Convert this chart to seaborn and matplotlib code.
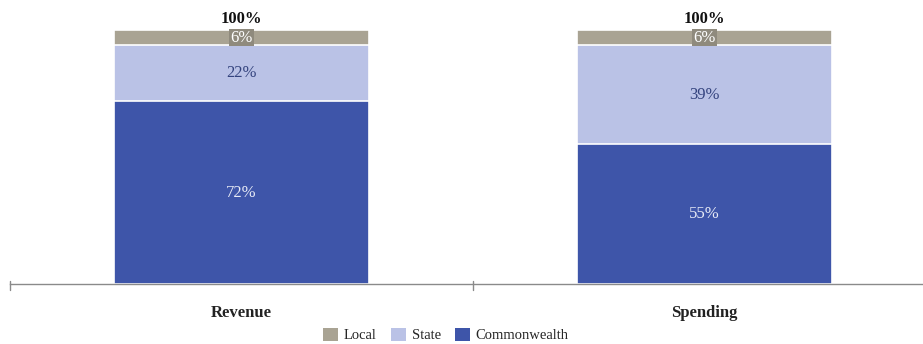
import matplotlib
matplotlib.use("Agg")
import matplotlib.pyplot as plt
from matplotlib.patches import Patch
import seaborn as sns
import pandas as pd

categories = ["Revenue", "Spending"]
commonwealth = [72, 55]
state = [22, 39]
local = [6, 6]
totals = [100, 100]

series_names = ["Local", "State", "Commonwealth"]
colors = {"Local": "#a9a393", "State": "#bac2e6", "Commonwealth": "#3e55a9"}
label_colors = {"Local": "white", "State": "#34437e", "Commonwealth": "#e8ebf6"}

sns.set_theme(style="white")
plt.rcParams["font.family"] = ["Liberation Serif", "DejaVu Serif"]

df = pd.DataFrame({
    "category": categories,
    "Commonwealth": commonwealth,
    "State": state,
    "Local": local,
})
df["cum_cw"] = df["Commonwealth"]
df["cum_state"] = df["cum_cw"] + df["State"]
df["cum_local"] = df["cum_state"] + df["Local"]

fig = plt.figure(figsize=(9.23, 3.44), dpi=100)
ax = fig.add_axes([10 / 923, 60 / 344, 926 / 923, 254 / 344])

bar_w = 0.55
# Stacked layers: draw the tallest cumulative first so each lower layer sits on top
for col, name in [("cum_local", "Local"), ("cum_state", "State"), ("cum_cw", "Commonwealth")]:
    sns.barplot(data=df, x="category", y=col, color=colors[name], width=bar_w,
                saturation=1, edgecolor="white", linewidth=1.2, ax=ax, errorbar=None)

ax.set_ylim(0, 100)
ax.set_xlim(-0.5, 1.5)
ax.set_xlabel("")
ax.set_ylabel("")
ax.set_yticks([])

# Segment value labels
for i in range(len(categories)):
    cw, st, lo = commonwealth[i], state[i], local[i]
    ax.text(i, cw / 2, f"{cw}%", ha="center", va="center", fontsize=12,
            color=label_colors["Commonwealth"])
    ax.text(i, cw + st / 2, f"{st}%", ha="center", va="center", fontsize=12,
            color=label_colors["State"])
    ax.text(i, cw + st + lo / 2, f"{lo}%", ha="center", va="center", fontsize=12,
            color=label_colors["Local"],
            bbox=dict(boxstyle="square,pad=0.05", fc="#8f8a7d", ec="none"))
    ax.text(i, totals[i] + 1.0, f"{totals[i]}%", ha="center", va="bottom",
            fontsize=12, fontweight="bold", color="#111111")

# Category axis
for s in ["top", "right", "left"]:
    ax.spines[s].set_visible(False)
ax.spines["bottom"].set_color("#8a8a8a")
ax.spines["bottom"].set_linewidth(1.0)
ax.set_xticks(range(len(categories)))
ax.set_xticklabels(categories, fontsize=12, fontweight="bold", color="#222222")
ax.tick_params(axis="x", length=0, pad=15)
for xb in [-0.5, 0.5, 1.5]:
    ax.plot([xb, xb], [-2.2, 1.0], color="#8a8a8a", lw=1.0, clip_on=False)

handles = [Patch(facecolor=colors[n], edgecolor="none", label=n) for n in series_names]
fig.legend(handles=handles, loc="center", bbox_to_anchor=(446 / 923, 1 - 335 / 344),
           ncol=3, frameon=False, fontsize=10.5, handlelength=1.0, handleheight=1.0,
           columnspacing=1.0, handletextpad=0.4, borderaxespad=0)

fig.savefig("out.png", dpi=100)
